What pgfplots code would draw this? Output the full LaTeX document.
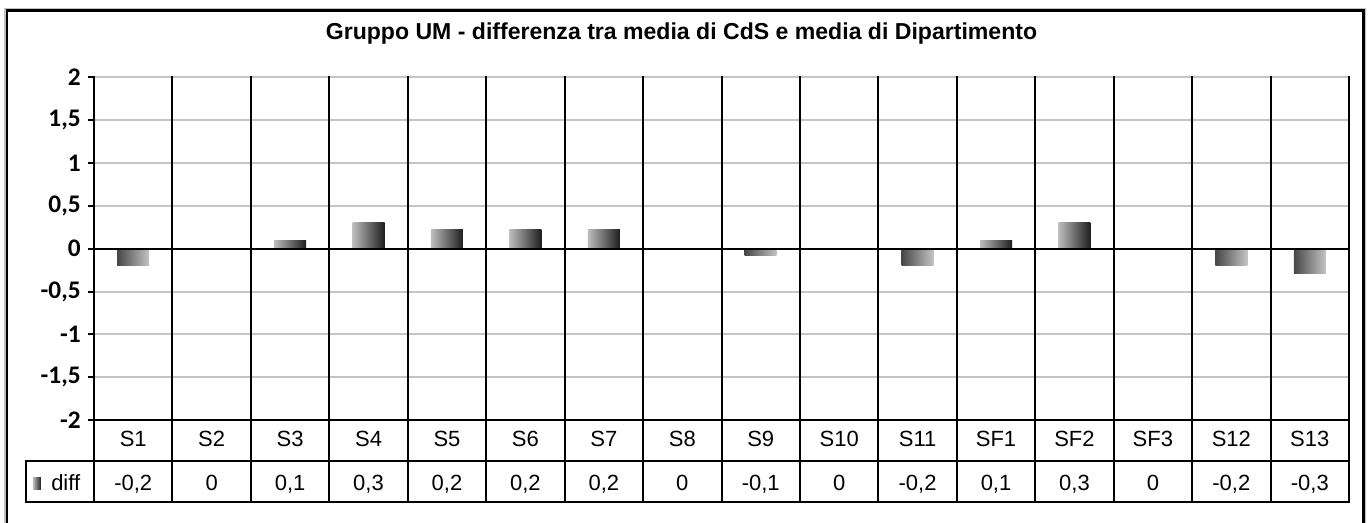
\documentclass[border=0pt]{standalone}
\usepackage{pgfplots}
\pgfplotsset{compat=1.18}
\usepackage{fontspec}
\setmainfont{Liberation Sans}
\newfontfamily\carlito{Carlito}
\definecolor{gridgray}{HTML}{C4C4C4}
\definecolor{posL}{HTML}{BDBDBD}
\definecolor{posR}{HTML}{1E1E1E}
\definecolor{negL}{HTML}{474747}
\definecolor{negR}{HTML}{C4C4C4}
\pgfplotsset{
  posbar/.style={ybar, bar width=24pt, bar shift=0pt, draw=none, left color=posL, right color=posR},
  negbar/.style={ybar, bar width=24pt, bar shift=0pt, draw=none, left color=negL, right color=negR},
}
\begin{document}
\begin{tikzpicture}
\begin{axis}[
  at={(0,0)}, anchor=south west,
  scale only axis, width=941.25pt, height=257pt,
  xmin=-0.5, xmax=15.5, ymin=-2, ymax=2,
  ytick={-2,-1.5,-1,-0.5,0,0.5,1,1.5,2},
  xtick=\empty,
  ymajorgrids, grid style={gridgray, line width=1.5pt},
  axis line style={draw=none},
  ytick pos=left, tick align=outside, major tick length=4.5pt,
  tick style={black, line width=1.5pt},
  yticklabel={\mbox{\carlito\bfseries\fontsize{19}{21}\selectfont\pgfmathprintnumber[use comma, fixed, assume math mode=true]{\tick}}},
  yticklabel style={xshift=-2pt},
  clip=false,
]
% diff values (category index, value)
\addplot[negbar] coordinates {(0,-0.2)};   % S1
\addplot[posbar] coordinates {(2,0.09)};   % S3
\addplot[posbar] coordinates {(3,0.3)};    % S4
\addplot[posbar] coordinates {(4,0.22)};   % S5
\addplot[posbar] coordinates {(5,0.22)};   % S6
\addplot[posbar] coordinates {(6,0.22)};   % S7
\addplot[negbar] coordinates {(8,-0.08)};  % S9
\addplot[negbar] coordinates {(10,-0.2)};  % S11
\addplot[posbar] coordinates {(11,0.09)};  % SF1
\addplot[posbar] coordinates {(12,0.3)};   % SF2
\addplot[negbar] coordinates {(14,-0.2)};  % S12
\addplot[negbar] coordinates {(15,-0.29)}; % S13
\draw[black, line width=1.5pt] (axis cs:-0.5,0) -- (axis cs:15.5,0);
\end{axis}
\begin{scope}[x=0.75pt, y=-0.75pt, shift={(-70.5pt,315pt)}, line cap=rect]
  \foreach \i in {0,...,16} \draw[line width=1.5pt] ({94+\i*78.4375},77.3) -- ({94+\i*78.4375},502);
  \draw[line width=1.5pt] (94,420) -- (1349,420);
  \draw[line width=1.5pt] (26,461) -- (1349,461);
  \draw[line width=1.5pt] (26,502) -- (1349,502);
  \draw[line width=1.5pt] (26,461) -- (26,502);
  \foreach \i/\n/\v in {0/S1/{-0,2},1/S2/0,2/S3/{0,1},3/S4/{0,3},4/S5/{0,2},5/S6/{0,2},6/S7/{0,2},7/S8/0,8/S9/{-0,1},9/S10/0,10/S11/{-0,2},11/SF1/{0,1},12/SF2/{0,3},13/SF3/0,14/S12/{-0,2},15/S13/{-0,3}} {
    \node[anchor=base, inner sep=0pt, font=\fontsize{16.5}{19}\selectfont] at ({94+(\i+0.5)*78.4375},446) {\n};
    \node[anchor=base, inner sep=0pt, font=\fontsize{16.5}{19}\selectfont] at ({94+(\i+0.5)*78.4375},490.5) {\v};
  }
  \shade[left color=posL, right color=posR] (33,477) rectangle (41,489);
  \node[anchor=base west, inner sep=0pt, font=\fontsize{16.5}{19}\selectfont] at (51,490.5) {diff};
  \node[anchor=base, inner sep=0pt, font=\bfseries\fontsize{17.3}{20}\selectfont] at (681.5,39.3) {Gruppo UM - differenza tra media di CdS e media di Dipartimento};
  \draw[gray!50, line width=0.8pt] (5,540) -- (5,8.7) -- (1365.5,8.7) -- (1365.5,540);
  \draw[black, line width=2pt] (7,540) -- (7,10.7) -- (1363.5,10.7) -- (1363.5,540);
  \pgfresetboundingbox
  \useasboundingbox (0,0) rectangle (1370,522);
\end{scope}
\end{tikzpicture}
\end{document}
